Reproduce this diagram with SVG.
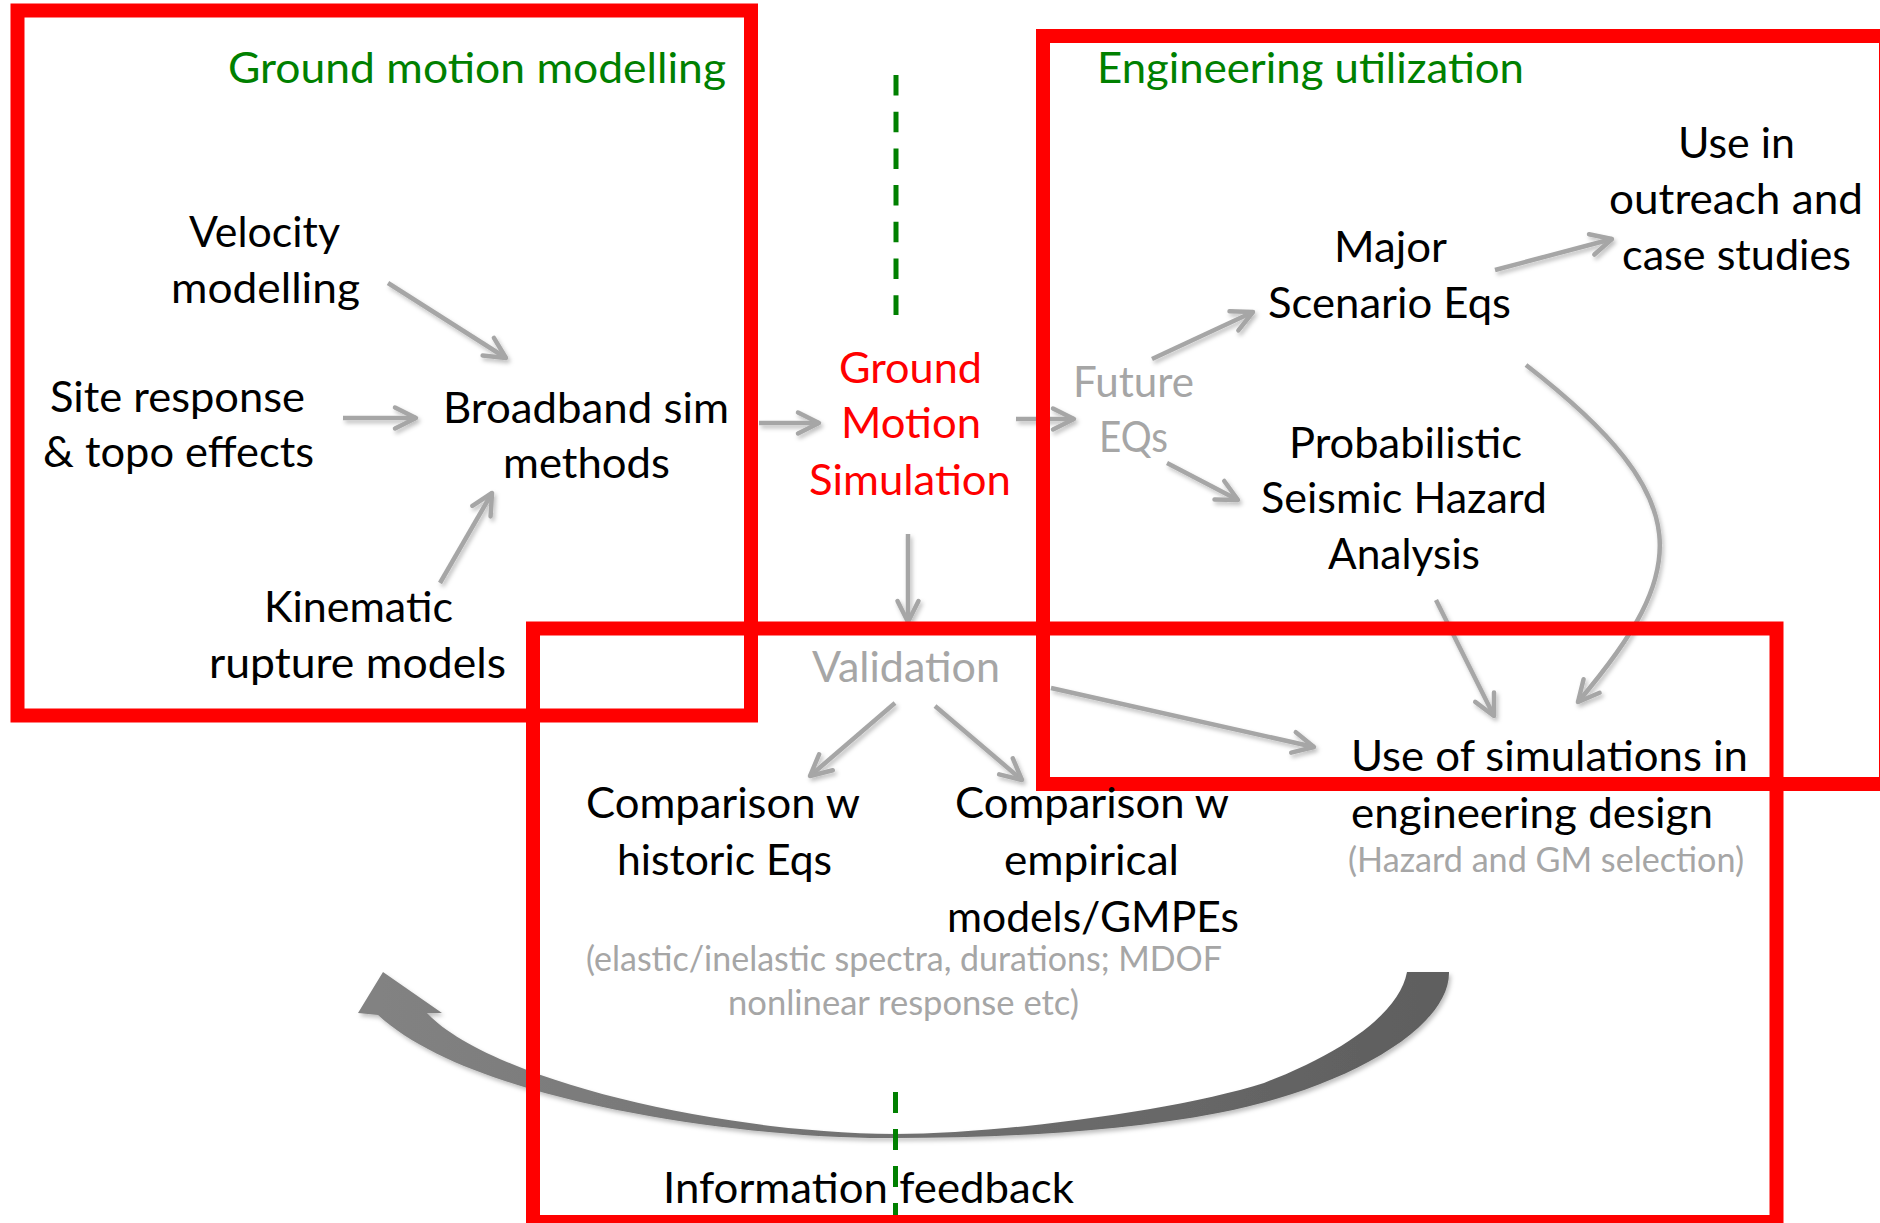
<svg xmlns="http://www.w3.org/2000/svg" width="1880" height="1223" viewBox="0 0 1880 1223">
<style>
.t{font-family:Lato,"Open Sans","Liberation Sans",sans-serif;font-size:43px;fill:#000}
.s{font-family:Lato,"Open Sans","Liberation Sans",sans-serif;font-size:34px;fill:#A6A6A6}
.green{fill:#008000}
.red{fill:#FF0000}
.gray{fill:#A6A6A6}
.conn{fill:none;stroke:#A6A6A6;stroke-width:4.5;marker-end:url(#ah)}
.box{fill:none;stroke:#FF0000;stroke-width:14}
.dash{stroke:#008000;stroke-width:5;fill:none}
</style>
<defs>
<marker id="ah" markerUnits="userSpaceOnUse" viewBox="-30 -20 40 40" markerWidth="40" markerHeight="40" refX="0" refY="0" orient="auto" overflow="visible">
<path d="M-21,-10.5 L0,0 L-21,10.5" fill="none" stroke="#A6A6A6" stroke-width="4.5" stroke-linejoin="round" stroke-linecap="round"/>
</marker>
<filter id="sh" x="-10%" y="-10%" width="130%" height="140%">
<feDropShadow dx="2" dy="3" stdDeviation="2" flood-color="#000" flood-opacity="0.25"/>
</filter>
<linearGradient id="fb" x1="380" y1="0" x2="1450" y2="0" gradientUnits="userSpaceOnUse">
<stop offset="0" stop-color="#828282"/>
<stop offset="1" stop-color="#5E5E5E"/>
</linearGradient>
</defs>
<rect width="1880" height="1223" fill="#FFFFFF"/>

<g id="connectors" filter="url(#sh)">
<path id="feedback-arrow" fill="url(#fb)" d="M1449,972 C1450,1030 1340,1090 1218,1113 C1120,1132 1000,1138 895,1138 C760,1140 475,1105 378,1015 L358,1013 L383,972 L442,1013 L427,1013 C485,1075 700,1132 895,1134 C1000,1134 1180,1110 1264,1083 C1350,1050 1400,1010 1407,972 Z"/>
<line class="conn" x1="388" y1="283" x2="506" y2="358"/>
<line class="conn" x1="343" y1="418" x2="416" y2="418"/>
<line class="conn" x1="440" y1="583" x2="492" y2="493"/>
<line class="conn" x1="759" y1="423" x2="819" y2="423"/>
<line class="conn" x1="1016" y1="419" x2="1074" y2="419"/>
<line class="conn" x1="908" y1="534" x2="908" y2="622"/>
<line class="conn" x1="1152" y1="359" x2="1253" y2="312"/>
<line class="conn" x1="1167" y1="463" x2="1238" y2="500"/>
<line class="conn" x1="1495" y1="270" x2="1612" y2="239"/>
<path class="conn" d="M1526,365 C1700,500 1690,570 1578,702"/>
<line class="conn" x1="1436" y1="600" x2="1494" y2="716"/>
<line class="conn" x1="1051" y1="688" x2="1314" y2="747"/>
<line class="conn" x1="895" y1="703" x2="810" y2="776"/>
<line class="conn" x1="935" y1="706" x2="1022" y2="780"/>
</g>

<g id="dividers">
<line class="dash" x1="896" y1="75" x2="896" y2="315" stroke-dasharray="20.5 16.2"/>
<line class="dash" x1="895.5" y1="1092" x2="895.5" y2="1223" stroke-dasharray="21 16"/>
</g>

<g id="region-ground-motion-modelling"><rect class="box" x="17.5" y="10.5" width="733.5" height="705"/></g>
<g id="region-engineering-utilization"><rect class="box" x="1043" y="36" width="843" height="748"/></g>
<g id="region-validation"><rect class="box" x="533" y="628.5" width="1243.5" height="593.5"/></g>

<g id="title-gmm"><text class="t green" x="228" y="83" textLength="498" lengthAdjust="spacingAndGlyphs">Ground motion modelling</text></g>
<g id="title-eng"><text class="t green" x="1097" y="83" textLength="427" lengthAdjust="spacingAndGlyphs">Engineering utilization</text></g>
<g id="node-velocity">
<text class="t" x="189" y="247" textLength="151" lengthAdjust="spacingAndGlyphs">Velocity</text>
<text class="t" x="171" y="303" textLength="189" lengthAdjust="spacingAndGlyphs">modelling</text>
</g>
<g id="node-site">
<text class="t" x="50" y="412" textLength="255" lengthAdjust="spacingAndGlyphs">Site response</text>
<text class="t" x="43" y="467" textLength="271" lengthAdjust="spacingAndGlyphs">&amp; topo effects</text>
</g>
<g id="node-broadband">
<text class="t" x="443" y="423" textLength="286" lengthAdjust="spacingAndGlyphs">Broadband sim</text>
<text class="t" x="503" y="478" textLength="167" lengthAdjust="spacingAndGlyphs">methods</text>
</g>
<g id="node-kinematic">
<text class="t" x="264" y="622" textLength="189" lengthAdjust="spacingAndGlyphs">Kinematic</text>
<text class="t" x="209" y="678" textLength="297" lengthAdjust="spacingAndGlyphs">rupture models</text>
</g>
<g id="node-gms">
<text class="t red" x="839" y="383" textLength="143" lengthAdjust="spacingAndGlyphs">Ground</text>
<text class="t red" x="841" y="438" textLength="140" lengthAdjust="spacingAndGlyphs">Motion</text>
<text class="t red" x="809" y="495" textLength="202" lengthAdjust="spacingAndGlyphs">Simulation</text>
</g>
<g id="node-future">
<text class="t gray" x="1073" y="397" textLength="121" lengthAdjust="spacingAndGlyphs">Future</text>
<text class="t gray" x="1099" y="452" textLength="69" lengthAdjust="spacingAndGlyphs">EQs</text>
</g>
<g id="node-outreach">
<text class="t" x="1678" y="158" textLength="117" lengthAdjust="spacingAndGlyphs">Use in</text>
<text class="t" x="1609" y="214" textLength="254" lengthAdjust="spacingAndGlyphs">outreach and</text>
<text class="t" x="1622" y="270" textLength="229" lengthAdjust="spacingAndGlyphs">case studies</text>
</g>
<g id="node-major">
<text class="t" x="1334" y="262" textLength="113" lengthAdjust="spacingAndGlyphs">Major</text>
<text class="t" x="1268" y="318" textLength="243" lengthAdjust="spacingAndGlyphs">Scenario Eqs</text>
</g>
<g id="node-psha">
<text class="t" x="1289" y="458" textLength="233" lengthAdjust="spacingAndGlyphs">Probabilistic</text>
<text class="t" x="1261" y="513" textLength="286" lengthAdjust="spacingAndGlyphs">Seismic Hazard</text>
<text class="t" x="1328" y="569" textLength="152" lengthAdjust="spacingAndGlyphs">Analysis</text>
</g>
<g id="node-validation">
<text class="t gray" x="812" y="682" textLength="188" lengthAdjust="spacingAndGlyphs">Validation</text>
</g>
<g id="node-comp-historic">
<text class="t" x="586" y="818" textLength="274" lengthAdjust="spacingAndGlyphs">Comparison w</text>
<text class="t" x="617" y="875" textLength="215" lengthAdjust="spacingAndGlyphs">historic Eqs</text>
</g>
<g id="node-comp-empirical">
<text class="t" x="955" y="818" textLength="274" lengthAdjust="spacingAndGlyphs">Comparison w</text>
<text class="t" x="1004" y="875" textLength="175" lengthAdjust="spacingAndGlyphs">empirical</text>
<text class="t" x="947" y="932" textLength="292" lengthAdjust="spacingAndGlyphs">models/GMPEs</text>
</g>
<g id="note-comparison">
<text class="s" x="586" y="971" textLength="636" lengthAdjust="spacingAndGlyphs">(elastic/inelastic spectra, durations; MDOF</text>
<text class="s" x="728" y="1015" textLength="351" lengthAdjust="spacingAndGlyphs">nonlinear response etc)</text>
</g>
<g id="node-use-sim">
<text class="t" x="1351" y="771" textLength="397" lengthAdjust="spacingAndGlyphs">Use of simulations in</text>
<text class="t" x="1351" y="828" textLength="362" lengthAdjust="spacingAndGlyphs">engineering design</text>
<text class="s" x="1348" y="872" textLength="396" lengthAdjust="spacingAndGlyphs">(Hazard and GM selection)</text>
</g>
<g id="label-feedback">
<text class="t" x="663" y="1203" textLength="411" lengthAdjust="spacingAndGlyphs">Information feedback</text>
</g>
</svg>
